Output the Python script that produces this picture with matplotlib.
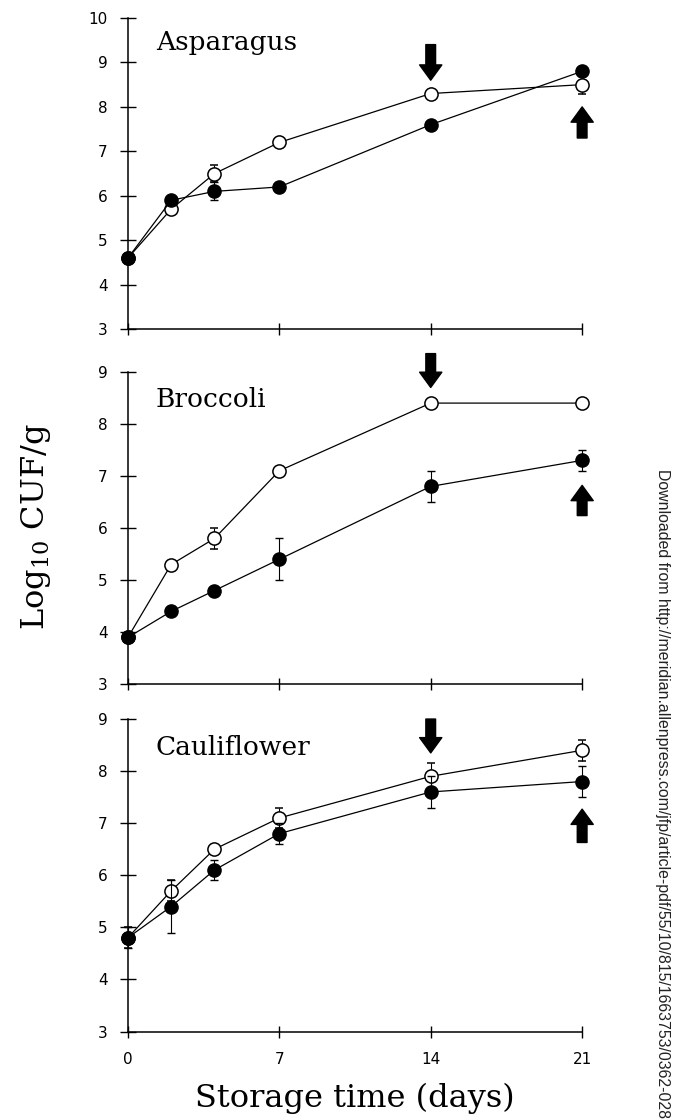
import numpy as np
import matplotlib.pyplot as plt


days = [0, 2, 4, 7, 14, 21]

# Asparagus
asp_open = [4.6, 5.7, 6.5, 7.2, 8.3, 8.5]
asp_open_err = [0.0, 0.1, 0.2, 0.0, 0.0, 0.2]
asp_filled = [4.6, 5.9, 6.1, 6.2, 7.6, 8.8]
asp_filled_err = [0.0, 0.1, 0.2, 0.0, 0.0, 0.0]

# Broccoli
bro_open = [3.9, 5.3, 5.8, 7.1, 8.4, 8.4]
bro_open_err = [0.0, 0.0, 0.2, 0.0, 0.0, 0.0]
bro_filled = [3.9, 4.4, 4.8, 5.4, 6.8, 7.3]
bro_filled_err = [0.0, 0.0, 0.0, 0.4, 0.3, 0.2]

# Cauliflower
cau_open = [4.8, 5.7, 6.5, 7.1, 7.9, 8.4]
cau_open_err = [0.2, 0.2, 0.0, 0.2, 0.25, 0.2]
cau_filled = [4.8, 5.4, 6.1, 6.8, 7.6, 7.8]
cau_filled_err = [0.2, 0.5, 0.2, 0.2, 0.3, 0.3]

panels = [
    ("Asparagus", asp_open, asp_open_err, asp_filled, asp_filled_err, 10),
    ("Broccoli", bro_open, bro_open_err, bro_filled, bro_filled_err, 9),
    ("Cauliflower", cau_open, cau_open_err, cau_filled, cau_filled_err, 9),
]

# annotation placement: (title y, down arrow tail/tip at day 14, up arrow tail/tip at day 21)
title_y = [9.45, 8.47, 8.46]
down_arrows = [(9.4, 8.6), (9.35, 8.7), (9.0, 8.35)]
up_arrows = [(7.3, 8.0), (6.24, 6.82), (6.63, 7.27)]

# axes rectangles in figure fraction
boxes = [
    (0.190, 0.706, 0.675, 0.278),
    (0.190, 0.389, 0.675, 0.279),
    (0.190, 0.079, 0.675, 0.279),
]

plt.rcParams["mathtext.fontset"] = "dejavuserif"
fig = plt.figure(figsize=(6.73, 11.2), dpi=100)

for i, (name, yo, eo, yf, ef, ytop) in enumerate(panels):
    ax = fig.add_axes(boxes[i])
    ax.errorbar(days, yo, yerr=eo, color="black", linewidth=0.9, elinewidth=0.8,
                capsize=3, marker="o", markersize=9.5, markerfacecolor="white",
                markeredgecolor="black", markeredgewidth=1.1, clip_on=False, zorder=3)
    ax.errorbar(days, yf, yerr=ef, color="black", linewidth=0.9, elinewidth=0.8,
                capsize=3, marker="o", markersize=9.5, markerfacecolor="black",
                markeredgecolor="black", clip_on=False, zorder=4)

    ax.set_xlim(0, 21)
    ax.set_ylim(3, ytop)
    ax.set_xticks([0, 7, 14, 21])
    ax.set_yticks(np.arange(3, ytop + 1))
    ax.spines["top"].set_visible(False)
    ax.spines["right"].set_visible(False)
    ax.spines["left"].set_linewidth(1.1)
    ax.spines["bottom"].set_linewidth(1.1)
    ax.tick_params(axis="y", direction="inout", length=11, width=1.0, pad=9, labelsize=11)
    ax.tick_params(axis="x", direction="inout", length=8, width=1.0, pad=11, labelsize=11)
    if i < 2:
        ax.set_xticklabels([])

    ax.text(1.3, title_y[i], name, fontsize=19, family="DejaVu Serif",
            va="center", ha="left")

    arrow_kw = dict(arrowstyle="simple,head_length=0.55,head_width=0.8,tail_width=0.35",
                    fc="black", ec="black", shrinkA=0, shrinkB=0, mutation_scale=20)
    tail, tip = down_arrows[i]
    ax.annotate("", xy=(14, tip), xytext=(14, tail), arrowprops=arrow_kw,
                annotation_clip=False)
    tail, tip = up_arrows[i]
    ax.annotate("", xy=(21, tip), xytext=(21, tail), arrowprops=arrow_kw,
                annotation_clip=False)

fig.text(0.053, 0.53, r"Log$_{10}$ CUF/g", rotation=90, fontsize=23,
         family="DejaVu Serif", ha="center", va="center")
fig.text(0.527, 0.019, "Storage time (days)", fontsize=23, family="DejaVu Serif",
         ha="center", va="center")
fig.text(0.984, 0.002,
         "Downloaded from http://meridian.allenpress.com/jfp/article-pdf/55/10/815/1663753/0362-028",
         rotation=-90, fontsize=11.4, family="Liberation Sans", ha="center", va="bottom",
         color="#222222")

fig.savefig("out.png", dpi=100)
